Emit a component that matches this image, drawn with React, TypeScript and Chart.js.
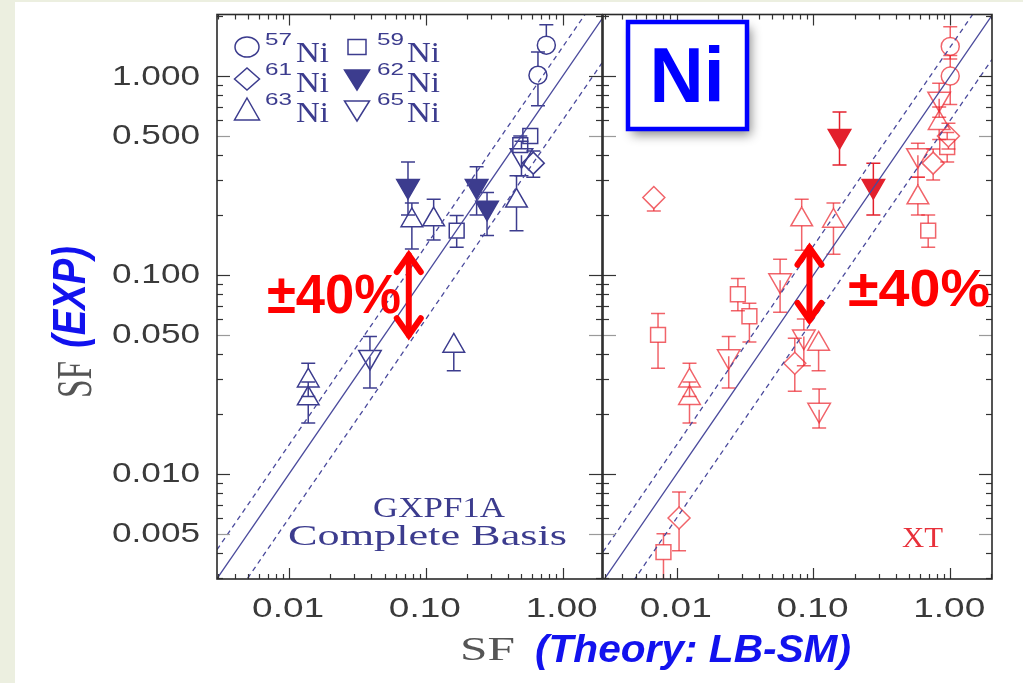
import React, { useEffect, useRef } from "react";
import { Chart, registerables } from "chart.js";

Chart.register(...registerables);

// ---------- colours & fonts ----------
const NAVY = "#3c3c8e";
const RED_OPEN = "rgba(236, 40, 48, 0.72)";
const RED_FILL = "#e3202c";
const BLUE = "#1212ee";
const GRAY = "#555555";
const GUIDE = "#4a4a9c";
const SERIF = '"Liberation Serif", "DejaVu Serif", serif';
const SANS = '"Liberation Sans", "DejaVu Sans", sans-serif';

// ---------- axes ----------
const Y_MIN = 0.00296;
const Y_MAX = 2.04;
const XL_MIN = 0.00297;
const XL_MAX = 1.94;
const XR_MIN = 0.00289;
const XR_MAX = 2.02;

const yTickValues = [0.005, 0.01, 0.05, 0.1, 0.5, 1];
const yTickLabels = ["0.005", "0.010", "0.050", "0.100", "0.500", "1.000"];
const xTickValues = [0.01, 0.1, 1];
const xTickLabels = ["0.01", "0.10", "1.00"];
const guideRatios = [1, 1.4, 0.6];

const isotopes = ["57", "59", "61", "62", "63", "65"];

// ---------- GXPF1A panel (left) ----------
const gxIso = ["57", "57", "59", "59", "59", "61", "62", "62", "62", "63", "63", "63", "63", "63", "63", "65", "65"];
const gxX = [0.76, 0.66, 0.58, 0.49, 0.168, 0.61, 0.074, 0.235, 0.28, 0.079, 0.114, 0.46, 0.0138, 0.0138, 0.16, 0.039, 0.5];
const gxY = [1.43, 1.01, 0.5, 0.45, 0.167, 0.365, 0.28, 0.28, 0.218, 0.188, 0.19, 0.236, 0.0294, 0.0239, 0.044, 0.0387, 0.4];
const gxLo = [1.32, 0.71, 0.46, 0.41, 0.138, 0.31, 0.2, 0.2, 0.158, 0.135, 0.15, 0.167, 0.0245, 0.018, 0.033, 0.027, 0.315];
const gxHi = [1.81, 1.32, 0.55, 0.5, 0.199, 0.42, 0.37, 0.35, 0.26, 0.23, 0.24, 0.315, 0.036, 0.029, 0.051, 0.049, 0.47];

// ---------- XT panel (right) ----------
const xtIso = ["57", "57", "59", "59", "59", "59", "59", "59", "61", "61", "61", "61", "61", "62", "62", "63", "63", "63", "63", "63", "63", "63", "65", "65", "65", "65", "65", "65"];
const xtX = [1.0, 1.0, 0.95, 0.69, 0.0073, 0.028, 0.034, 0.008, 0.97, 0.75, 0.0068, 0.073, 0.0104, 0.155, 0.274, 0.83, 0.58, 0.082, 0.14, 0.0124, 0.0124, 0.109, 0.83, 0.58, 0.057, 0.024, 0.085, 0.11];
const xtY = [1.41, 1.0, 0.44, 0.167, 0.05, 0.08, 0.062, 0.00404, 0.5, 0.365, 0.245, 0.036, 0.006, 0.5, 0.28, 0.58, 0.245, 0.19, 0.187, 0.0294, 0.024, 0.045, 0.77, 0.4, 0.094, 0.039, 0.049, 0.021];
const xtLo = [1.22, 0.72, 0.37, 0.138, 0.034, 0.066, 0.046, 0.0025, 0.43, 0.3, 0.21, 0.026, 0.0041, 0.357, 0.2, 0.48, 0.2, 0.133, 0.127, 0.0245, 0.018, 0.033, 0.62, 0.31, 0.065, 0.027, 0.035, 0.017];
const xtHi = [1.77, 1.27, 0.52, 0.2, 0.064, 0.096, 0.072, 0.005, 0.58, 0.43, 0.245, 0.048, 0.0081, 0.66, 0.365, 0.7, 0.31, 0.24, 0.23, 0.036, 0.029, 0.051, 0.92, 0.46, 0.12, 0.049, 0.06, 0.0267];

// ---------- annotations (data coordinates) ----------
const leftArrow = { x: 0.075, yTop: 0.132, yBottom: 0.0475 };
const rightArrow = { x: 0.0935, yTop: 0.1436, yBottom: 0.0567 };

// ---------- marker styles ----------
const markerStyles: Record<string, any> = {
  "57": { pointStyle: "circle", radius: 9, rotation: 0, filled: false, gapUp: 9, gapDown: 9 },
  "59": { pointStyle: "rect", radius: 10.5, rotation: 0, filled: false, gapUp: 7.5, gapDown: 7.5 },
  "61": { pointStyle: "rectRot", radius: 11, rotation: 0, filled: false, gapUp: 11, gapDown: 11 },
  "62": { pointStyle: "triangle", radius: 13, rotation: 180, filled: true, gapUp: 6.5, gapDown: 0 },
  "63": { pointStyle: "triangle", radius: 12.5, rotation: 0, filled: false, gapUp: 12.5, gapDown: 6.3 },
  "65": { pointStyle: "triangle", radius: 13, rotation: 180, filled: false, gapUp: 6.5, gapDown: 0 },
};

function fitText(
  ctx: CanvasRenderingContext2D,
  text: string,
  x: number,
  y: number,
  o: { font: string; color: string; width?: number; align?: CanvasTextAlign; baseline?: CanvasTextBaseline }
) {
  ctx.save();
  ctx.font = o.font;
  ctx.fillStyle = o.color;
  ctx.textAlign = o.align || "left";
  ctx.textBaseline = o.baseline || "alphabetic";
  const w0 = ctx.measureText(text).width || 1;
  const sx = o.width ? o.width / w0 : 1;
  ctx.translate(x, y);
  ctx.scale(sx, 1);
  ctx.fillText(text, 0, 0);
  ctx.restore();
}

function logSteps(min: number, max: number) {
  const out: number[] = [];
  for (let e = Math.floor(Math.log10(min)); e <= Math.ceil(Math.log10(max)); e++) {
    for (let m = 1; m <= 9; m++) {
      const v = m * Math.pow(10, e);
      if (v >= min * 0.999 && v <= max * 1.001) out.push(v);
    }
  }
  return out;
}
function mantissa(v: number) {
  const e = Math.floor(Math.log10(v) + 1e-9);
  return Math.round(v / Math.pow(10, e));
}

function line(ctx: CanvasRenderingContext2D, x1: number, y1: number, x2: number, y2: number) {
  ctx.beginPath();
  ctx.moveTo(x1, y1);
  ctx.lineTo(x2, y2);
  ctx.stroke();
}

function drawDoubleArrow(chart: any, a: { x: number; yTop: number; yBottom: number }) {
  const ctx = chart.ctx;
  const x = chart.scales.x.getPixelForValue(a.x);
  const y1 = chart.scales.y.getPixelForValue(a.yTop);
  const y2 = chart.scales.y.getPixelForValue(a.yBottom);
  ctx.save();
  ctx.strokeStyle = "#ff0000";
  ctx.lineWidth = 6;
  ctx.lineCap = "round";
  ctx.lineJoin = "miter";
  line(ctx, x, y1 + 4, x, y2 - 4);
  ctx.beginPath();
  ctx.moveTo(x - 12, y1 + 21);
  ctx.lineTo(x, y1 + 4);
  ctx.lineTo(x + 12, y1 + 21);
  ctx.stroke();
  ctx.beginPath();
  ctx.moveTo(x - 12, y2 - 21);
  ctx.lineTo(x, y2 - 4);
  ctx.lineTo(x + 12, y2 - 21);
  ctx.stroke();
  ctx.restore();
}

function drawLegendSymbol(ctx: CanvasRenderingContext2D, iso: string, x: number, y: number) {
  ctx.save();
  ctx.strokeStyle = NAVY;
  ctx.fillStyle = NAVY;
  ctx.lineWidth = 1.5;
  ctx.beginPath();
  if (iso === "57") {
    ctx.ellipse(x, y, 12, 10, 0, 0, Math.PI * 2);
  } else if (iso === "59") {
    ctx.rect(x - 9, y - 7.5, 18, 15);
  } else if (iso === "61") {
    ctx.moveTo(x - 12.5, y);
    ctx.lineTo(x, y - 11);
    ctx.lineTo(x + 12.5, y);
    ctx.lineTo(x, y + 11);
    ctx.closePath();
  } else if (iso === "63") {
    ctx.moveTo(x, y - 12);
    ctx.lineTo(x + 12.5, y + 10);
    ctx.lineTo(x - 12.5, y + 10);
    ctx.closePath();
  } else {
    ctx.moveTo(x, y + 11);
    ctx.lineTo(x + 12.5, y - 9);
    ctx.lineTo(x - 12.5, y - 9);
    ctx.closePath();
  }
  if (iso === "62") ctx.fill();
  ctx.stroke();
  ctx.restore();
}

const errorBarPlugin = {
  id: "errorBars",
  beforeDatasetsDraw(chart: any) {
    const ctx = chart.ctx;
    const a = chart.chartArea;
    const ys = chart.scales.y;
    ctx.save();
    ctx.beginPath();
    ctx.rect(a.left, a.top, a.right - a.left, a.bottom - a.top);
    ctx.clip();
    chart.data.datasets.forEach((ds: any, i: number) => {
      if (!ds.errLo) return;
      const meta = chart.getDatasetMeta(i);
      ctx.strokeStyle = ds.barColor;
      ctx.lineWidth = 1.5;
      meta.data.forEach((pt: any, j: number) => {
        const px = pt.x;
        const py = pt.y;
        const hi = ys.getPixelForValue(ds.errHi[j]);
        const lo = ys.getPixelForValue(ds.errLo[j]);
        if (py - hi > ds.gapUp + 1) {
          line(ctx, px, py - ds.gapUp, px, hi);
          line(ctx, px - 7, hi, px + 7, hi);
        }
        if (lo - py > ds.gapDown + 1) {
          line(ctx, px, py + ds.gapDown, px, lo);
          line(ctx, px - 7, lo, px + 7, lo);
        }
      });
    });
    ctx.restore();
  },
};

function makeFrame(showYLabels: boolean, extra: (chart: any) => void) {
  return {
    id: "frame",
    afterDraw(chart: any) {
      const ctx = chart.ctx;
      const a = chart.chartArea;
      const xs = chart.scales.x;
      const ys = chart.scales.y;
      ctx.save();
      ctx.lineWidth = 1.2;
      for (const v of logSteps(ys.min, ys.max)) {
        const p = Math.round(ys.getPixelForValue(v)) + 0.5;
        const m = mantissa(v);
        const len = m === 1 || m === 5 ? 13 : 6;
        ctx.strokeStyle = m === 5 ? "#9a9a9a" : "#333";
        line(ctx, a.left, p, a.left + len, p);
        line(ctx, a.right, p, a.right - len, p);
      }
      ctx.strokeStyle = "#333";
      for (const v of logSteps(xs.min, xs.max)) {
        const p = Math.round(xs.getPixelForValue(v)) + 0.5;
        const m = mantissa(v);
        const len = m === 1 ? 11 : 5;
        line(ctx, p, a.bottom, p, a.bottom - len);
        line(ctx, p, a.top, p, a.top + len);
      }
      ctx.strokeStyle = "#2a2a2a";
      ctx.lineWidth = 1.6;
      ctx.strokeRect(a.left, a.top, a.right - a.left, a.bottom - a.top);
      ctx.restore();

      if (showYLabels) {
        yTickValues.forEach((v, i) => {
          const p = ys.getPixelForValue(v);
          fitText(ctx, yTickLabels[i], 200, p + 1, {
            font: `27px ${SANS}`,
            color: "#3a3a3a",
            width: 88,
            align: "right",
            baseline: "middle",
          });
        });
      }
      xTickValues.forEach((v, i) => {
        const p = xs.getPixelForValue(v);
        fitText(ctx, xTickLabels[i], p - 1, 617, {
          font: `27px ${SANS}`,
          color: "#3a3a3a",
          width: 72,
          align: "center",
        });
      });
      extra(chart);
    },
  };
}

function pointDatasets(iso: string[], xs: number[], ys: number[], lo: number[], hi: number[], open: string, fill: string) {
  return isotopes
    .map((k) => {
      const idx = iso.map((v, i) => (v === k ? i : -1)).filter((i) => i >= 0);
      const st = markerStyles[k];
      const col = st.filled ? fill : open;
      return {
        type: "scatter",
        label: k,
        data: idx.map((i) => ({ x: xs[i], y: ys[i] })),
        errLo: idx.map((i) => lo[i]),
        errHi: idx.map((i) => hi[i]),
        gapUp: st.gapUp,
        gapDown: st.gapDown,
        barColor: col,
        pointStyle: st.pointStyle,
        pointRadius: st.radius,
        pointHoverRadius: st.radius,
        pointRotation: st.rotation,
        pointBackgroundColor: st.filled ? fill : "rgba(0,0,0,0)",
        pointBorderColor: col,
        pointBorderWidth: 1.5,
        showLine: false,
      };
    })
    .filter((d) => d.data.length > 0);
}

function guideDatasets(xmin: number, xmax: number) {
  return guideRatios.map((r) => ({
    type: "scatter",
    data: [
      { x: xmin, y: r * xmin },
      { x: xmax, y: r * xmax },
    ],
    showLine: true,
    borderColor: GUIDE,
    borderWidth: 1.3,
    borderDash: r === 1 ? [] : [5, 4],
    pointRadius: 0,
    fill: false,
  }));
}

function axis(min: number, max: number, isX: boolean, size: number) {
  return {
    type: "logarithmic",
    min,
    max,
    bounds: "data",
    grid: { display: false, drawTicks: false },
    border: { display: false },
    ticks: { display: false },
    afterFit: (s: any) => {
      if (isX) s.height = size;
      else s.width = size;
    },
  };
}

function leftExtras(chart: any) {
  const ctx = chart.ctx;
  // legend
  const cols = [
    { sym: 247, sup: 265, ni: 296 },
    { sym: 357, sup: 377, ni: 407 },
  ];
  const rows = [
    { sym: 47, base: 62 },
    { sym: 79, base: 92 },
    { sym: 110, base: 122 },
  ];
  isotopes.forEach((k, i) => {
    const c = cols[i % 2];
    const r = rows[Math.floor(i / 2)];
    drawLegendSymbol(ctx, k, c.sym, r.sym);
    fitText(ctx, k, c.sup, r.base - 17, { font: `17px ${SANS}`, color: NAVY, width: 27 });
    fitText(ctx, "Ni", c.ni, r.base, { font: `29px ${SERIF}`, color: NAVY, width: 33 });
  });
  // panel label
  fitText(ctx, "GXPF1A", 439, 517, { font: `30px ${SERIF}`, color: NAVY, width: 132, align: "center" });
  fitText(ctx, "Complete Basis", 288, 545, { font: `30px ${SERIF}`, color: NAVY, width: 279 });
  // arrow + text
  drawDoubleArrow(chart, leftArrow);
  fitText(ctx, "±40%", 267, 313, { font: `bold 56px ${SANS}`, color: "#ff0000", width: 134 });
  // y title
  ctx.save();
  ctx.translate(91, 398);
  ctx.rotate(-Math.PI / 2);
  fitText(ctx, "SF", 0, 0, { font: `50px ${SERIF}`, color: GRAY, width: 37 });
  fitText(ctx, "(EXP)", 50, -6, { font: `bold italic 46px ${SANS}`, color: BLUE, width: 102 });
  ctx.restore();
  // x title
  fitText(ctx, "SF", 460, 660, { font: `33px ${SERIF}`, color: GRAY, width: 55 });
  fitText(ctx, "(Theory: LB-SM)", 535, 662, { font: `bold italic 38px ${SANS}`, color: BLUE, width: 316 });
}

function rightExtras(chart: any) {
  const ctx = chart.ctx;
  fitText(ctx, "XT", 902, 547, { font: `30px ${SERIF}`, color: "#e8303a", width: 41 });
  // Ni box
  ctx.save();
  ctx.shadowColor = "rgba(0,0,0,0.45)";
  ctx.shadowBlur = 10;
  ctx.shadowOffsetX = 4;
  ctx.shadowOffsetY = 6;
  ctx.fillStyle = "#ffffff";
  ctx.fillRect(628, 22, 119, 107);
  ctx.restore();
  ctx.save();
  ctx.strokeStyle = "#0000ff";
  ctx.lineWidth = 4.5;
  ctx.strokeRect(628, 22, 119, 107);
  ctx.restore();
  fitText(ctx, "Ni", 687, 102, { font: `bold 78px ${SANS}`, color: "#0000ff", width: 75, align: "center" });
  drawDoubleArrow(chart, rightArrow);
  fitText(ctx, "±40%", 848, 306, { font: `bold 52px ${SANS}`, color: "#ff0000", width: 142 });
}

export default function App() {
  const leftRef = useRef<HTMLCanvasElement>(null);
  const rightRef = useRef<HTMLCanvasElement>(null);

  useEffect(() => {
    const common = {
      responsive: false,
      maintainAspectRatio: false,
      animation: false,
      devicePixelRatio: 1,
      events: [],
      plugins: { legend: { display: false }, tooltip: { enabled: false } },
    };
    const left = new Chart(leftRef.current as HTMLCanvasElement, {
      type: "scatter",
      data: {
        datasets: [
          ...guideDatasets(XL_MIN, XL_MAX),
          ...pointDatasets(gxIso, gxX, gxY, gxLo, gxHi, NAVY, NAVY),
        ] as any,
      },
      options: {
        ...common,
        layout: { padding: { left: 0, right: 1023 - 602, top: 10, bottom: 0 } },
        scales: {
          x: axis(XL_MIN, XL_MAX, true, 104),
          y: axis(Y_MIN, Y_MAX, false, 217),
        },
      } as any,
      plugins: [errorBarPlugin, makeFrame(true, leftExtras)] as any,
    });
    const right = new Chart(rightRef.current as HTMLCanvasElement, {
      type: "scatter",
      data: {
        datasets: [
          ...guideDatasets(XR_MIN, XR_MAX),
          ...pointDatasets(xtIso, xtX, xtY, xtLo, xtHi, RED_OPEN, RED_FILL),
        ] as any,
      },
      options: {
        ...common,
        layout: { padding: { left: 0, right: 1023 - 992, top: 10, bottom: 0 } },
        scales: {
          x: axis(XR_MIN, XR_MAX, true, 104),
          y: axis(Y_MIN, Y_MAX, false, 603),
        },
      } as any,
      plugins: [errorBarPlugin, makeFrame(false, rightExtras)] as any,
    });
    return () => {
      left.destroy();
      right.destroy();
    };
  }, []);

  return (
    <div style={{ position: "absolute", left: 0, top: 0, width: 1023, height: 683, background: "#ffffff", overflow: "hidden" }}>
      <div style={{ position: "absolute", left: 0, top: 0, width: 15, height: 683, background: "#ECEFE0" }} />
      <div style={{ position: "absolute", left: 0, top: 0, width: 1023, height: 2, background: "#ECEFE0" }} />
      <canvas ref={leftRef} width={1023} height={683} style={{ position: "absolute", left: 0, top: 0 }} />
      <canvas ref={rightRef} width={1023} height={683} style={{ position: "absolute", left: 0, top: 0 }} />
    </div>
  );
}
